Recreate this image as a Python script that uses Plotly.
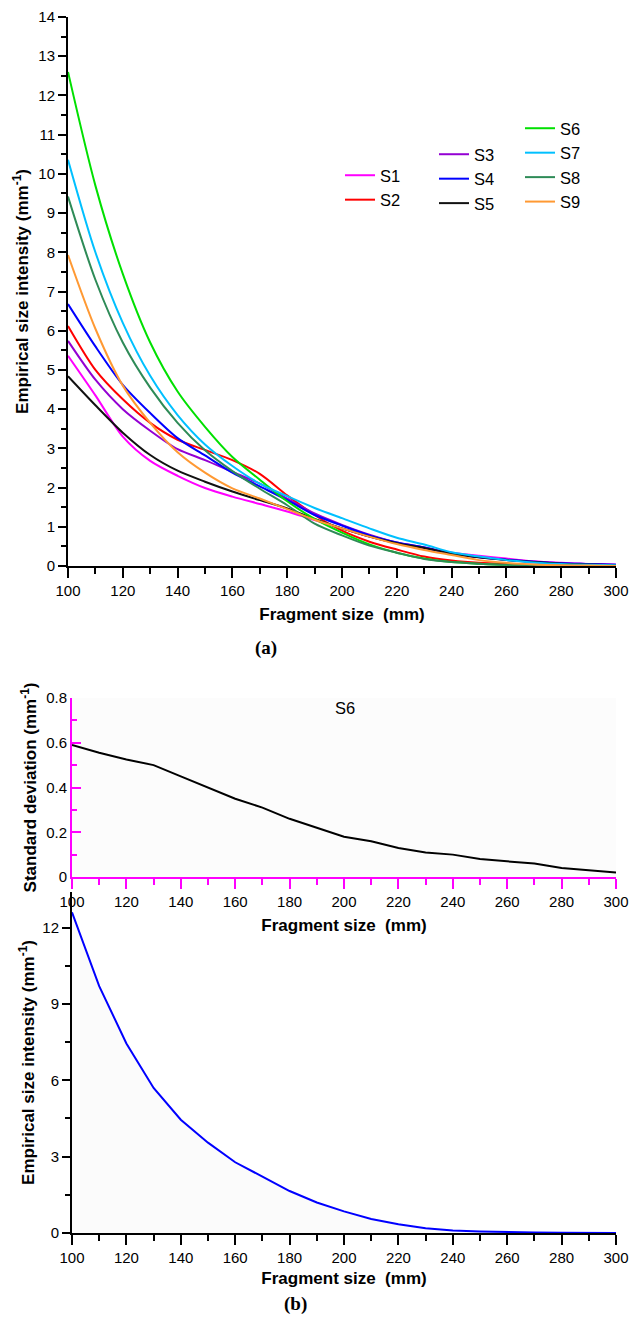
import plotly.graph_objects as go

# ---------------- data ----------------
fragment_size = [100, 110, 120, 130, 140, 150, 160, 170, 180, 190, 200,
                 210, 220, 230, 240, 250, 260, 270, 280, 290, 300]

S1 = [5.36, 4.35, 3.30, 2.68, 2.30, 1.99, 1.77, 1.58, 1.39, 1.17, 0.96, 0.75, 0.58, 0.45, 0.34, 0.26, 0.19, 0.12, 0.08, 0.05, 0.03]
S2 = [6.12, 5.00, 4.25, 3.65, 3.22, 2.96, 2.70, 2.35, 1.80, 1.30, 0.90, 0.62, 0.42, 0.24, 0.14, 0.08, 0.05, 0.03, 0.02, 0.01, 0.00]
S3 = [5.74, 4.75, 4.00, 3.45, 2.98, 2.70, 2.40, 2.10, 1.72, 1.34, 1.05, 0.80, 0.60, 0.48, 0.32, 0.23, 0.16, 0.11, 0.07, 0.05, 0.03]
S4 = [6.68, 5.60, 4.62, 3.90, 3.26, 2.82, 2.38, 2.03, 1.68, 1.30, 1.03, 0.78, 0.60, 0.47, 0.31, 0.22, 0.16, 0.11, 0.07, 0.05, 0.03]
S5 = [4.84, 4.10, 3.40, 2.83, 2.43, 2.15, 1.90, 1.68, 1.47, 1.20, 0.96, 0.75, 0.58, 0.46, 0.32, 0.22, 0.15, 0.10, 0.06, 0.04, 0.02]
S6 = [12.60, 9.70, 7.45, 5.70, 4.45, 3.55, 2.78, 2.20, 1.65, 1.20, 0.85, 0.55, 0.34, 0.19, 0.10, 0.06, 0.03, 0.02, 0.01, 0.00, 0.00]
S7 = [10.36, 8.00, 6.20, 4.85, 3.85, 3.10, 2.55, 2.10, 1.78, 1.48, 1.22, 0.96, 0.72, 0.55, 0.35, 0.24, 0.15, 0.09, 0.05, 0.03, 0.02]
S8 = [9.42, 7.30, 5.70, 4.55, 3.65, 2.95, 2.42, 1.97, 1.55, 1.08, 0.78, 0.52, 0.34, 0.18, 0.10, 0.06, 0.03, 0.02, 0.01, 0.00, 0.00]
S9 = [7.93, 6.05, 4.60, 3.65, 2.90, 2.38, 1.98, 1.72, 1.45, 1.18, 0.96, 0.75, 0.56, 0.41, 0.28, 0.15, 0.08, 0.04, 0.02, 0.01, 0.00]

S6_std = [0.59, 0.555, 0.525, 0.50, 0.45, 0.40, 0.35, 0.31, 0.26, 0.22, 0.18,
          0.16, 0.13, 0.11, 0.10, 0.08, 0.07, 0.06, 0.04, 0.03, 0.02]

series_names = ["S1", "S2", "S3", "S4", "S5", "S6", "S7", "S8", "S9"]
series_values = [S1, S2, S3, S4, S5, S6, S7, S8, S9]
series_colors = ["#ff00ff", "#ff0000", "#9400d3", "#0000ff", "#111111",
                 "#00e000", "#00c0ff", "#2e8b57", "#ff9933"]
series_legend = ["legend", "legend", "legend2", "legend2", "legend2",
                 "legend3", "legend3", "legend3", "legend3"]

W, H = 630, 1324
def px(v):
    return v / W
def py(v):
    return 1 - v / H

TICKFONT = dict(family="Arial, Liberation Sans", size=15, color="black")
TITLEFONT = dict(family="Arial, Liberation Sans", size=17, color="black", weight="bold")
XTITLE = "Fragment size \u00a0(mm)"
YTITLE = "Empirical size intensity (mm<sup>-1</sup>)"

fig = go.Figure()

for name, vals, col, lg in zip(series_names, series_values, series_colors, series_legend):
    fig.add_trace(go.Scatter(
        x=fragment_size, y=vals, mode="lines", name=name,
        line=dict(color=col, width=2, shape="spline", smoothing=0.8),
        legend=lg, xaxis="x", yaxis="y", showlegend=True))

fig.add_trace(go.Scatter(
    x=fragment_size, y=S6_std, mode="lines", name="S6 std",
    line=dict(color="black", width=2), xaxis="x2", yaxis="y2", showlegend=False))

fig.add_trace(go.Scatter(
    x=fragment_size, y=S6, mode="lines", name="S6 intensity",
    line=dict(color="#0000ff", width=2), fill="tozeroy",
    fillcolor="rgba(200,200,200,0.08)",
    xaxis="x3", yaxis="y3", showlegend=False))

def xax(domain, anchor, color="black", standoff=4):
    return dict(
        domain=domain, anchor=anchor, range=[100, 300], tick0=100, dtick=20,
        showline=True, linecolor=color, linewidth=2, mirror=False,
        ticks="outside", ticklen=10, tickwidth=2, tickcolor=color,
        minor=dict(ticks="outside", ticklen=6, tickwidth=2, tickcolor=color, dtick=10, showgrid=False),
        showgrid=False, zeroline=False, tickfont=TICKFONT, automargin=False,
        title=dict(text=XTITLE, font=TITLEFONT, standoff=standoff))

leg_common = dict(bgcolor="rgba(0,0,0,0)", borderwidth=0, yanchor="top", xanchor="left",
                  font=dict(family="Arial, Liberation Sans", size=16.5, color="black"),
                  traceorder="normal")

fig.update_layout(
    width=W, height=H, margin=dict(l=0, r=0, t=0, b=0),
    paper_bgcolor="white", plot_bgcolor="white",
    xaxis=xax([px(68), px(616)], "y", standoff=10),
    yaxis=dict(domain=[py(566), py(17)], anchor="x", range=[0, 14], tick0=0, dtick=1,
               showline=True, linecolor="black", linewidth=2,
               ticks="outside", ticklen=8, tickwidth=2, tickcolor="black",
               minor=dict(ticks="outside", ticklen=5, tickwidth=2, tickcolor="black", dtick=0.5, showgrid=False),
               showgrid=False, zeroline=False, tickfont=TICKFONT, automargin=False,
               title=dict(text=YTITLE, font=TITLEFONT, standoff=5)),
    xaxis2=xax([px(72), px(616)], "y2", color="#ff00ff", standoff=10),
    yaxis2=dict(domain=[py(877), py(698)], anchor="x2", range=[0, 0.8], tick0=0, dtick=0.2,
                showline=True, linecolor="#ff00ff", linewidth=2,
                ticks="inside", ticklen=9, tickwidth=2, tickcolor="#ff00ff",
                minor=dict(ticks="inside", ticklen=5, tickwidth=2, tickcolor="#ff00ff", dtick=0.1, showgrid=False),
                showgrid=False, zeroline=False, tickfont=TICKFONT, automargin=False,
                title=dict(text="Standard deviation (mm<sup>-1</sup>)", font=TITLEFONT, standoff=5)),
    xaxis3=xax([px(72), px(616)], "y3", standoff=7),
    yaxis3=dict(domain=[py(1233), py(892)], anchor="x3", range=[0, 13.4], tick0=0, dtick=3,
                showline=True, linecolor="black", linewidth=2,
                ticks="outside", ticklen=8, tickwidth=2, tickcolor="black",
                minor=dict(ticks="outside", ticklen=5, tickwidth=2, tickcolor="black", dtick=1.5, showgrid=False),
                showgrid=False, zeroline=False, tickfont=TICKFONT, automargin=False,
                title=dict(text=YTITLE, font=TITLEFONT, standoff=3)),
    legend=dict(x=px(340), y=py(158), **leg_common),
    legend2=dict(x=px(434), y=py(137), **leg_common),
    legend3=dict(x=px(520), y=py(111), **leg_common),
    shapes=[dict(type="rect", xref="x2", yref="y2", x0=100, x1=300, y0=0, y1=0.8,
                 fillcolor="#fcfcfc", line=dict(width=0), layer="below")],
    annotations=[
        dict(text="<b>(a)</b>", x=px(266), y=py(648), xref="paper", yref="paper",
             xanchor="center", yanchor="middle", showarrow=False,
             font=dict(family="Liberation Serif, Times New Roman", size=19, color="black")),
        dict(text="<b>(b)</b>", x=px(295), y=py(1304), xref="paper", yref="paper",
             xanchor="center", yanchor="middle", showarrow=False,
             font=dict(family="Liberation Serif, Times New Roman", size=19, color="black")),
        dict(text="S6", x=px(345), y=py(708), xref="paper", yref="paper",
             xanchor="center", yanchor="middle", showarrow=False,
             font=dict(family="Arial, Liberation Sans", size=16.5, color="black")),
    ],
)

fig.write_html("out.html")
